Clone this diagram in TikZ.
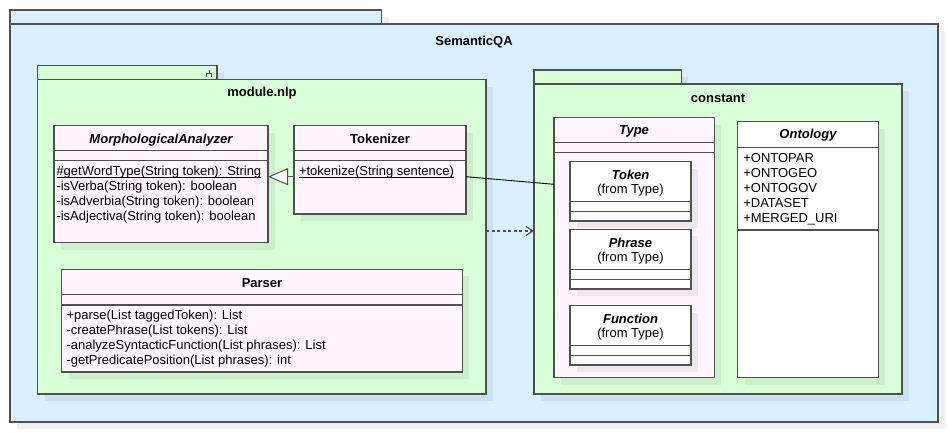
\documentclass[tikz,border=0pt]{standalone}
\usepackage{fontspec}
\setmainfont{Liberation Sans}
\usetikzlibrary{arrows.meta,calc}
\definecolor{pkgblue}{RGB}{218,240,255}
\definecolor{pkggreen}{RGB}{217,255,217}
\definecolor{clspink}{RGB}{255,245,255}
\definecolor{edgegray}{RGB}{80,80,80}
\newcommand\umlbox[6]{%
  \fill[shadowfill] ({#2+7},{#3+7}) rectangle ({#4+7},{#5+7});
  \node[boxbase,#6,minimum width={#4-#2},minimum height={#5-#3}] (#1) at (#2,#3) {};
}
\newcommand\ulx[1]{\setbox0=\hbox{#1}\rlap{\rule[-2.2pt]{\wd0}{0.8pt}}\box0}
\begin{document}
\begin{tikzpicture}[x=1pt,y=-1pt,
  shadowfill/.style={fill=black, fill opacity=0.06},
  boxbase/.style={draw=edgegray, line width=1.2pt, inner sep=0pt, outer sep=0pt, anchor=north west},
  pkgb/.style={fill=pkgblue},
  pkgg/.style={fill=pkggreen},
  clsp/.style={fill=clspink},
  clsw/.style={fill=white},
  divider/.style={draw=edgegray, line width=1.1pt},
  txt/.style={inner sep=0pt, outer sep=0pt, font=\fontsize{13}{15}\selectfont, anchor=base west},
  ctxt/.style={txt, anchor=base},
  hdr/.style={ctxt, font=\fontsize{13}{15}\selectfont\bfseries},
  ahdr/.style={ctxt, font=\fontsize{13}{15}\selectfont\bfseries\itshape},
]
\useasboundingbox[fill=white] (0,0) rectangle (948,432);

% SemanticQA package
\umlbox{sqatab}{10}{10}{381.7}{24}{pkgb}
\umlbox{sqa}{10}{24}{938}{422}{pkgb}
\node[hdr] (lsqa) at (474,45) {SemanticQA};

% module.nlp package
\umlbox{nlptab}{37.7}{65.7}{217}{79.7}{pkgg}
\umlbox{nlp}{37.7}{79.7}{486}{394}{pkgg}
\node[hdr] (lnlp) at (262,96.6) {module.nlp};
\draw[edgegray, line width=1pt] (209,69.5) -- (209,73) (205.8,73) -- (212.2,73) (206.3,73) -- (206.3,77) (211.7,73) -- (211.7,77);

% constant package
\umlbox{consttab}{534}{70}{681.3}{84}{pkgg}
\umlbox{const}{534}{84}{902}{394}{pkgg}
\node[hdr] (lconst) at (718,102) {constant};

% MorphologicalAnalyzer
\umlbox{ma}{54}{125.7}{268}{242.7}{clsp}
\draw[divider] (54,150.7) -- (268,150.7) (54,160.7) -- (268,160.7);
\node[ahdr] (man) at (161,143.5) {MorphologicalAnalyzer};
\node[txt] (ma1) at (56.5,175.5) {\ulx{\#getWordType(String token): String}};
\node[txt] (ma2) at (56.5,190.5) {-isVerba(String token): boolean};
\node[txt] (ma3) at (56.5,205.5) {-isAdverbia(String token): boolean};
\node[txt] (ma4) at (56.5,220.5) {-isAdjectiva(String token): boolean};

% Tokenizer
\umlbox{tok}{294}{125.7}{466}{214}{clsp}
\draw[divider] (294,150.7) -- (466,150.7) (294,160.7) -- (466,160.7);
\node[hdr] (tokn) at (380,143.5) {Tokenizer};
\node[txt] (tok1) at (299,175.5) {\ulx{+tokenize(String sentence)}};

% Parser
\umlbox{par}{61.7}{269.3}{462.3}{372}{clsp}
\draw[divider] (61.7,294.3) -- (462.3,294.3) (61.7,305) -- (462.3,305);
\node[hdr] (parn) at (262,287.5) {Parser};
\node[txt] (par1) at (66.5,319.5) {+parse(List taggedToken): List};
\node[txt] (par2) at (66.5,334.5) {-createPhrase(List tokens): List};
\node[txt] (par3) at (66.5,349.5) {-analyzeSyntacticFunction(List phrases): List};
\node[txt] (par4) at (66.5,364.5) {-getPredicatePosition(List phrases): int};

% Type
\umlbox{type}{554}{117.7}{714.3}{377.7}{clsp}
\draw[divider] (554,142.3) -- (714.3,142.3) (554,152.7) -- (714.3,152.7);
\node[ahdr] (typen) at (634,134.7) {Type};

% Token
\umlbox{token}{570}{161.7}{691}{221}{clsw}
\draw[divider] (570,201.7) -- (691,201.7) (570,211.7) -- (691,211.7);
\node[ahdr] (tokenn) at (630.5,179) {Token};
\node[ctxt] (tokenf) at (630.5,193) {(from Type)};

% Phrase
\umlbox{phrase}{570}{229.3}{691}{289}{clsw}
\draw[divider] (570,269.7) -- (691,269.7) (570,279.7) -- (691,279.7);
\node[ahdr] (phrasen) at (630.5,247) {Phrase};
\node[ctxt] (phrasef) at (630.5,261) {(from Type)};

% Function
\umlbox{func}{570}{305.7}{691}{365}{clsw}
\draw[divider] (570,345.7) -- (691,345.7) (570,355.7) -- (691,355.7);
\node[ahdr] (funcn) at (630.5,323.3) {Function};
\node[ctxt] (funcf) at (630.5,337.3) {(from Type)};

% Ontology
\umlbox{onto}{737.7}{121.7}{878.3}{377.7}{clsw}
\draw[divider] (737.7,147.3) -- (878.3,147.3) (737.7,230) -- (878.3,230);
\node[ahdr] (onton) at (808,138.5) {Ontology};
\node[txt] (onto1) at (743.3,162) {+ONTOPAR};
\node[txt] (onto2) at (743.3,177) {+ONTOGEO};
\node[txt] (onto3) at (743.3,192) {+ONTOGOV};
\node[txt] (onto4) at (743.3,207) {+DATASET};
\node[txt] (onto5) at (743.3,222) {+MERGED\_URI};

% connectors
\draw[edgegray, line width=1pt, -{Triangle[open, length=20pt, width=17pt, fill=white]}]
  ($(tok.north west)+(0,51)$) -- ($(ma.north east)+(0,51)$);
\draw[black, line width=0.9pt] ($(tok.north east)+(0,51)$) -- ($(type.north west)+(0,66.6)$);
\draw[edgegray, line width=1.1pt, dash pattern=on 3pt off 2.5pt, -{Straight Barb[length=7pt, width=9pt]}]
  ($(nlp.north east)+(0,151.3)$) -- ($(const.north west)+(0,147)$);
\end{tikzpicture}
\end{document}
